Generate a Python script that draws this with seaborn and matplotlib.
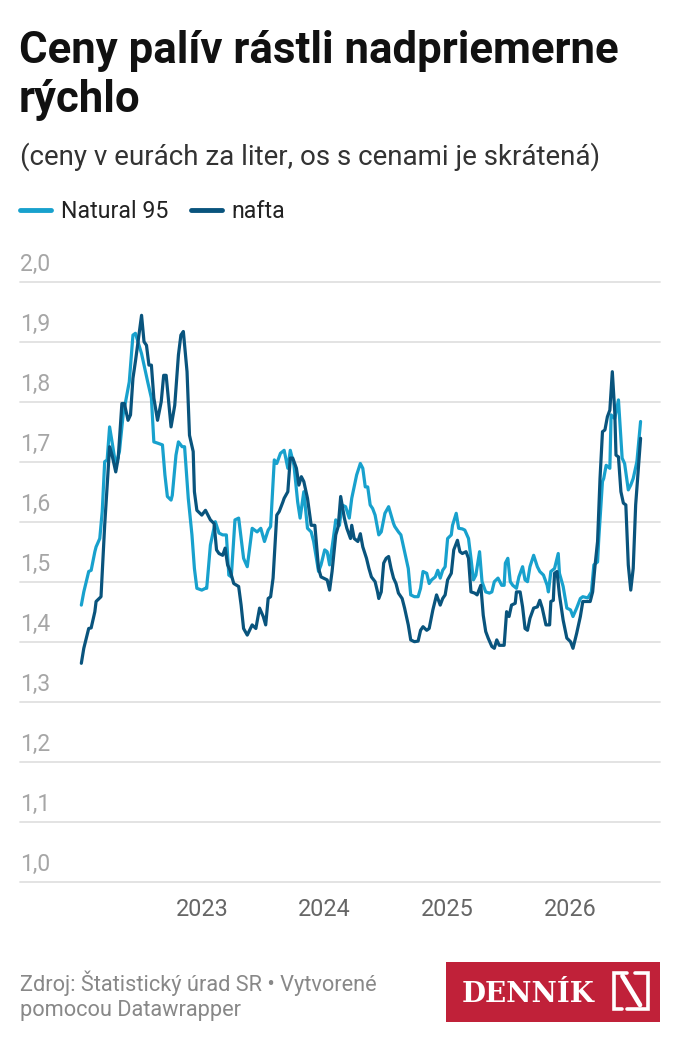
import matplotlib
matplotlib.use("Agg")
import matplotlib.pyplot as plt
import seaborn as sns
import pandas as pd
from matplotlib.lines import Line2D
from matplotlib.patches import Rectangle

# --- Data (time as decimal year) ---

natural_t = [
    2022.02, 2022.04, 2022.08, 2022.10, 2022.13, 2022.14, 2022.17, 2022.19, 2022.21, 2022.23,
    2022.25, 2022.27, 2022.30, 2022.33, 2022.36, 2022.38, 2022.41, 2022.44, 2022.46, 2022.51,
    2022.56, 2022.59, 2022.61, 2022.64, 2022.68, 2022.70, 2022.72, 2022.75, 2022.76, 2022.79,
    2022.81, 2022.84, 2022.86, 2022.89, 2022.92, 2022.94, 2022.96, 2023.00, 2023.03, 2023.04,
    2023.07, 2023.11, 2023.14, 2023.17, 2023.20, 2023.22, 2023.24, 2023.27, 2023.30, 2023.34,
    2023.37, 2023.41, 2023.45, 2023.48, 2023.51, 2023.54, 2023.56, 2023.59, 2023.61, 2023.64,
    2023.67, 2023.70, 2023.72, 2023.75, 2023.78, 2023.80, 2023.83, 2023.86, 2023.89, 2023.91,
    2023.95, 2023.97, 2024.00, 2024.02, 2024.04, 2024.07, 2024.09, 2024.12, 2024.14, 2024.17,
    2024.20, 2024.22, 2024.26, 2024.29, 2024.31, 2024.33, 2024.35, 2024.37, 2024.39, 2024.41,
    2024.44, 2024.46, 2024.49, 2024.52, 2024.54, 2024.56, 2024.57, 2024.60, 2024.62, 2024.65,
    2024.68, 2024.70, 2024.73, 2024.76, 2024.78, 2024.80, 2024.83, 2024.85, 2024.87, 2024.90,
    2024.92, 2024.94, 2024.96, 2024.98, 2025.00, 2025.03, 2025.04, 2025.07, 2025.09, 2025.12,
    2025.14, 2025.17, 2025.19, 2025.21, 2025.23, 2025.26, 2025.28, 2025.31, 2025.34, 2025.36,
    2025.38, 2025.41, 2025.44, 2025.46, 2025.47, 2025.49, 2025.51, 2025.53, 2025.56, 2025.58,
    2025.61, 2025.63, 2025.65, 2025.67, 2025.70, 2025.73, 2025.75, 2025.78, 2025.81, 2025.82,
    2025.84, 2025.87, 2025.90, 2025.91, 2025.94, 2025.97, 2026.00, 2026.02, 2026.05, 2026.08,
    2026.10, 2026.14, 2026.17, 2026.19, 2026.22, 2026.23, 2026.26, 2026.27, 2026.29, 2026.32,
    2026.33, 2026.36, 2026.39, 2026.42, 2026.44, 2026.47, 2026.49, 2026.51, 2026.54, 2026.57,
]
natural_95 = [
    1.461, 1.483, 1.517, 1.519, 1.550, 1.558, 1.572, 1.617, 1.700, 1.703,
    1.758, 1.733, 1.694, 1.717, 1.778, 1.800, 1.833, 1.911, 1.914, 1.880,
    1.833, 1.806, 1.733, 1.731, 1.728, 1.678, 1.642, 1.636, 1.644, 1.711,
    1.733, 1.725, 1.725, 1.639, 1.578, 1.522, 1.489, 1.486, 1.489, 1.489,
    1.561, 1.600, 1.581, 1.578, 1.578, 1.511, 1.508, 1.603, 1.606, 1.539,
    1.525, 1.589, 1.583, 1.589, 1.567, 1.586, 1.592, 1.703, 1.697, 1.714,
    1.719, 1.689, 1.719, 1.694, 1.633, 1.606, 1.650, 1.589, 1.583, 1.567,
    1.517, 1.528, 1.553, 1.550, 1.528, 1.572, 1.603, 1.594, 1.628, 1.625,
    1.606, 1.639, 1.678, 1.697, 1.689, 1.658, 1.658, 1.628, 1.622, 1.611,
    1.578, 1.583, 1.614, 1.625, 1.611, 1.597, 1.592, 1.583, 1.578, 1.550,
    1.522, 1.478, 1.475, 1.475, 1.489, 1.517, 1.514, 1.497, 1.503, 1.508,
    1.519, 1.506, 1.519, 1.525, 1.572, 1.578, 1.594, 1.614, 1.589, 1.588,
    1.586, 1.572, 1.539, 1.503, 1.511, 1.550, 1.500, 1.483, 1.481, 1.483,
    1.500, 1.506, 1.494, 1.494, 1.531, 1.539, 1.500, 1.494, 1.489, 1.508,
    1.525, 1.503, 1.500, 1.525, 1.544, 1.525, 1.517, 1.511, 1.494, 1.483,
    1.517, 1.522, 1.547, 1.514, 1.492, 1.456, 1.453, 1.442, 1.456, 1.472,
    1.475, 1.473, 1.483, 1.528, 1.533, 1.572, 1.667, 1.672, 1.694, 1.689,
    1.778, 1.772, 1.803, 1.706, 1.697, 1.653, 1.661, 1.672, 1.700, 1.767,
]

nafta_t = [
    2022.02, 2022.04, 2022.08, 2022.10, 2022.13, 2022.14, 2022.18, 2022.21, 2022.25, 2022.27,
    2022.30, 2022.32, 2022.35, 2022.37, 2022.40, 2022.42, 2022.44, 2022.46, 2022.51, 2022.53,
    2022.55, 2022.57, 2022.59, 2022.61, 2022.64, 2022.67, 2022.69, 2022.71, 2022.75, 2022.78,
    2022.81, 2022.83, 2022.85, 2022.88, 2022.90, 2022.93, 2022.94, 2022.96, 2023.00, 2023.03,
    2023.05, 2023.07, 2023.10, 2023.12, 2023.14, 2023.17, 2023.19, 2023.21, 2023.23, 2023.26,
    2023.30, 2023.32, 2023.34, 2023.37, 2023.41, 2023.44, 2023.47, 2023.50, 2023.52, 2023.54,
    2023.56, 2023.58, 2023.61, 2023.63, 2023.66, 2023.67, 2023.70, 2023.72, 2023.74, 2023.77,
    2023.79, 2023.81, 2023.83, 2023.86, 2023.89, 2023.92, 2023.95, 2023.97, 2023.99, 2024.02,
    2024.04, 2024.06, 2024.09, 2024.11, 2024.13, 2024.16, 2024.18, 2024.21, 2024.22, 2024.24,
    2024.27, 2024.29, 2024.31, 2024.34, 2024.36, 2024.38, 2024.41, 2024.43, 2024.44, 2024.46,
    2024.48, 2024.50, 2024.52, 2024.54, 2024.56, 2024.58, 2024.60, 2024.63, 2024.65, 2024.68,
    2024.70, 2024.73, 2024.76, 2024.78, 2024.80, 2024.83, 2024.85, 2024.88, 2024.91, 2024.94,
    2024.96, 2024.98, 2025.00, 2025.03, 2025.05, 2025.08, 2025.10, 2025.12, 2025.15, 2025.17,
    2025.19, 2025.22, 2025.24, 2025.27, 2025.29, 2025.31, 2025.33, 2025.36, 2025.38, 2025.40,
    2025.42, 2025.46, 2025.48, 2025.50, 2025.52, 2025.55, 2025.56, 2025.59, 2025.61, 2025.63,
    2025.65, 2025.67, 2025.70, 2025.73, 2025.75, 2025.77, 2025.80, 2025.83, 2025.84, 2025.86,
    2025.87, 2025.89, 2025.91, 2025.94, 2025.97, 2026.00, 2026.02, 2026.05, 2026.08, 2026.10,
    2026.13, 2026.16, 2026.18, 2026.20, 2026.22, 2026.24, 2026.26, 2026.28, 2026.30, 2026.32,
    2026.34, 2026.36, 2026.37, 2026.39, 2026.41, 2026.43, 2026.45, 2026.47, 2026.49, 2026.51,
    2026.53, 2026.57,
]
nafta = [
    1.364, 1.389, 1.422, 1.423, 1.450, 1.467, 1.475, 1.594, 1.725, 1.711,
    1.683, 1.706, 1.797, 1.797, 1.769, 1.778, 1.839, 1.867, 1.944, 1.900,
    1.894, 1.861, 1.861, 1.806, 1.769, 1.800, 1.844, 1.844, 1.758, 1.794,
    1.878, 1.911, 1.917, 1.850, 1.744, 1.717, 1.650, 1.619, 1.611, 1.619,
    1.611, 1.603, 1.597, 1.553, 1.547, 1.544, 1.556, 1.528, 1.519, 1.497,
    1.492, 1.461, 1.422, 1.411, 1.428, 1.422, 1.456, 1.442, 1.428, 1.472,
    1.475, 1.506, 1.611, 1.617, 1.633, 1.639, 1.650, 1.706, 1.706, 1.689,
    1.661, 1.675, 1.667, 1.639, 1.594, 1.594, 1.522, 1.508, 1.506, 1.503,
    1.486, 1.517, 1.578, 1.592, 1.642, 1.606, 1.589, 1.572, 1.594, 1.572,
    1.567, 1.580, 1.558, 1.539, 1.522, 1.508, 1.500, 1.483, 1.472, 1.483,
    1.531, 1.539, 1.542, 1.522, 1.506, 1.497, 1.481, 1.472, 1.456, 1.428,
    1.403, 1.400, 1.401, 1.419, 1.425, 1.419, 1.422, 1.453, 1.478, 1.461,
    1.472, 1.478, 1.503, 1.514, 1.553, 1.569, 1.550, 1.547, 1.550, 1.539,
    1.483, 1.481, 1.478, 1.494, 1.444, 1.417, 1.406, 1.392, 1.389, 1.403,
    1.394, 1.394, 1.450, 1.442, 1.461, 1.464, 1.483, 1.483, 1.458, 1.422,
    1.419, 1.439, 1.456, 1.458, 1.469, 1.456, 1.428, 1.428, 1.467, 1.469,
    1.514, 1.517, 1.478, 1.436, 1.406, 1.400, 1.389, 1.414, 1.442, 1.467,
    1.467, 1.467, 1.483, 1.528, 1.567, 1.672, 1.750, 1.753, 1.775, 1.786,
    1.850, 1.783, 1.711, 1.708, 1.650, 1.631, 1.628, 1.528, 1.486, 1.522,
    1.628, 1.739,
]

series_names = ["Natural 95", "nafta"]
series_colors = ["#18a1cd", "#09547d"]
y_ticks = [1.0, 1.1, 1.2, 1.3, 1.4, 1.5, 1.6, 1.7, 1.8, 1.9, 2.0]
x_ticks = [2023, 2024, 2025, 2026]

# --- Build long-form table ---
df = pd.concat([
    pd.DataFrame({"t": natural_t, "cena": natural_95, "palivo": series_names[0]}),
    pd.DataFrame({"t": nafta_t, "cena": nafta, "palivo": series_names[1]}),
], ignore_index=True)

sns.set_theme(style="white")
plt.rcParams["font.family"] = ["Roboto", "DejaVu Sans"]

W, H = 680, 1042
fig = plt.figure(figsize=(W / 100, H / 100), dpi=100)
fig.patch.set_facecolor("white")

# plot area in pixels: x 20..660, y 281.7..881.7
ax = fig.add_axes([20 / W, 1 - 881.7 / H, 640 / W, 600 / H])
sns.lineplot(data=df, x="t", y="cena", hue="palivo", palette=series_colors,
             hue_order=series_names, estimator=None, sort=True,
             linewidth=2.3, ax=ax, legend=False)

ax.set_xlim(2021.521, 2026.728)
ax.set_ylim(1.0, 2.0)
ax.set_yticks(y_ticks)
ax.set_yticklabels([])
ax.tick_params(axis="y", length=0)
ax.set_xticks(x_ticks)
ax.set_xticklabels([str(x) for x in x_ticks])
ax.tick_params(axis="x", length=0, pad=12, labelsize=16.8, labelcolor="#666666")
ax.set_xlabel("")
ax.set_ylabel("")
for s in ax.spines.values():
    s.set_visible(False)
ax.grid(axis="y", color="#e1e1e1", linewidth=1.3)
ax.grid(axis="x", visible=False)
for gl in ax.yaxis.get_gridlines():
    gl.set_clip_on(False)

# y labels sit above their gridlines, Datawrapper style
for v in y_ticks:
    ax.annotate(f"{v:.1f}".replace(".", ","), xy=(0, v),
                xycoords=ax.get_yaxis_transform(), xytext=(0, 4),
                textcoords="offset points", ha="left", va="bottom",
                fontsize=16.5, color="#a6a6a6")

# --- overlay in pixel coordinates for header, legend, footer ---
ov = fig.add_axes([0, 0, 1, 1])
ov.set_xlim(0, W)
ov.set_ylim(H, 0)
ov.axis("off")
ov.patch.set_alpha(0)

ov.text(19, 63, "Ceny palív rástli nadpriemerne", fontsize=31.5, fontweight="bold",
        color="#111111", va="baseline")
ov.text(19, 112, "rýchlo", fontsize=31.5, fontweight="bold", color="#111111",
        va="baseline")
ov.text(20, 165, "(ceny v eurách za liter, os s cenami je skrátená)", fontsize=20,
        color="#333333", va="baseline")

# legend
handles = [Line2D([], [], color=c, linewidth=3.5) for c in series_colors]
leg = fig.legend(handles, series_names, loc="center left",
                 bbox_to_anchor=(20 / W, 1 - 212 / H), ncol=2, frameon=False,
                 fontsize=16.7, handlelength=1.35, handletextpad=0.4,
                 columnspacing=1.0, borderpad=0, borderaxespad=0)
for txt in leg.get_texts():
    txt.set_color("#222222")

# footer
ov.text(20, 991, "Zdroj: Štatistický úrad SR • Vytvorené", fontsize=15.7,
        color="#888888", va="baseline")
ov.text(20, 1016, "pomocou Datawrapper", fontsize=15.7, color="#888888", va="baseline")

# Denník N logo
ov.add_patch(Rectangle((446, 962), 214, 60, color="#c02139", linewidth=0))
ov.text(462, 1002, "DENNÍK", fontsize=20, fontweight="bold", color="white",
        family="DejaVu Serif", va="baseline")
lw = 2.6
ov.plot([626.7, 613.5, 613.5, 621.5], [973, 973, 1009, 1009], color="white",
        lw=lw, solid_joinstyle="miter")
ov.plot([622.5, 640], [976, 1005], color="white", lw=lw + 0.8)
ov.plot([635, 648.3, 648.3, 627], [973, 973, 1009, 1009], color="white",
        lw=lw, solid_joinstyle="miter")

fig.savefig("out.png", dpi=100)
